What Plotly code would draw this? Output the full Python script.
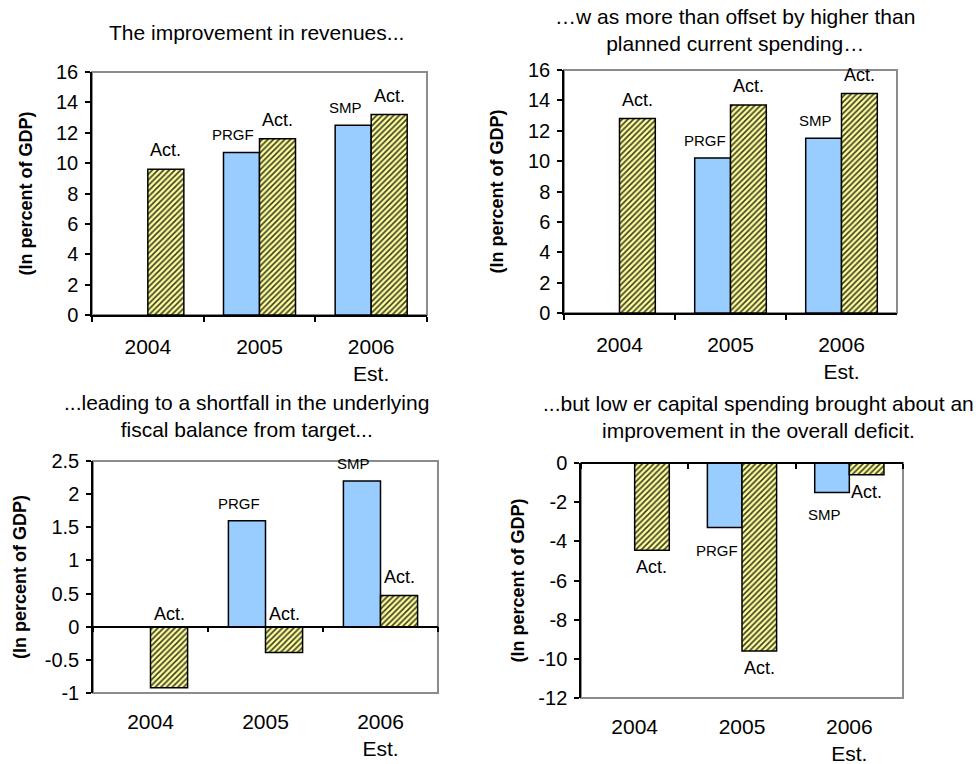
import plotly.graph_objects as go

# ---------------- data ----------------
categories = ["2004", "2005", "2006<br>Est."]

rev_prog = [None, 10.7, 12.5]
rev_act = [9.6, 11.6, 13.2]
rev_prog_lbl = ["", "PRGF", "SMP"]

cur_prog = [None, 10.2, 11.5]
cur_act = [12.8, 13.7, 14.45]
cur_prog_lbl = ["", "PRGF", "SMP"]

bal_prog = [None, 1.6, 2.2]
bal_act = [-0.92, -0.39, 0.47]
bal_prog_lbl = ["", "PRGF", "SMP"]

def_prog = [None, -3.3, -1.5]
def_act = [-4.45, -9.6, -0.6]
def_prog_lbl = ["", "PRGF", "SMP"]

act_lbl = ["Act.", "Act.", "Act."]

titles = [
    "The improvement in revenues...",
    "\u2026w as more than offset by higher than<br>planned current spending\u2026",
    "...leading to a shortfall in the underlying<br>fiscal balance from target...",
    "...but low er capital spending brought about an<br>improvement in the overall deficit.",
]
ytitle = "(In percent of GDP)"

y_ranges = [(0, 16, 2), (0, 16, 2), (-1, 2.5, 0.5), (-12, 0, 2)]

# ---------------- layout / style ----------------
W, H = 980, 764
FONT = "Arial, Liberation Sans, sans-serif"
BLUE = "#99CCFF"
YEL = "#FFFF99"
HATCH = "#3a3a2a"
BARGAP = 0.355

# plot areas in pixels: (left, right, top, bottom)
areas = [
    (92, 427, 72, 315),
    (564, 897, 70, 313),
    (93, 438, 461, 693),
    (581, 903, 463, 698),
]
# title centres (x px) and first line centre y px
title_pos = [(256, 32), (735, 16), (246, 402), (758, 403)]
ytitle_x = [25, 497, 20, 517]

panels = [
    (rev_prog, rev_act, rev_prog_lbl),
    (cur_prog, cur_act, cur_prog_lbl),
    (bal_prog, bal_act, bal_prog_lbl),
    (def_prog, def_act, def_prog_lbl),
]

fig = go.Figure()
annotations = []
shapes = []
layout = dict(
    template="none",
    width=W, height=H, autosize=False,
    margin=dict(l=0, r=0, t=0, b=0, pad=0),
    paper_bgcolor="white", plot_bgcolor="white",
    showlegend=False, barmode="group", bargap=BARGAP, bargroupgap=0,
    font=dict(family=FONT, color="black"),
)

half = (1 - BARGAP) / 4.0  # offset of each bar centre from category centre

for k, ((prog, act, plbl), area, yr) in enumerate(zip(panels, areas, y_ranges)):
    n = k + 1
    xs = "x" if n == 1 else f"x{n}"
    ys = "y" if n == 1 else f"y{n}"
    xk = "xaxis" if n == 1 else f"xaxis{n}"
    yk = "yaxis" if n == 1 else f"yaxis{n}"
    l, r, t, b = area
    xdom = [l / W, r / W]
    ydom = [1 - b / H, 1 - t / H]
    ymin, ymax, dt = yr

    fig.add_trace(go.Bar(
        x=categories, y=prog, xaxis=xs, yaxis=ys,
        marker=dict(color=BLUE, line=dict(color="black", width=1.5)),
        hoverinfo="skip",
    ))
    fig.add_trace(go.Bar(
        x=categories, y=act, xaxis=xs, yaxis=ys,
        marker=dict(color=YEL, line=dict(color="black", width=1.5),
                    pattern=dict(shape="/", bgcolor=YEL, fgcolor=HATCH,
                                 fgopacity=1, size=4, solidity=0.4)),
        hoverinfo="skip",
    ))

    tickvals = []
    v = ymin
    while v <= ymax + 1e-9:
        tickvals.append(round(v, 6))
        v += dt
    ticktext = [f"{tv:g}" for tv in tickvals]

    zero_inside = ymin < 0
    layout[xk] = dict(
        domain=xdom, anchor=ys, type="category", range=[-0.5, 2.5],
        tickson="boundaries", automargin=False,
        ticks="" if zero_inside else "outside", ticklen=5, tickcolor="black",
        tickwidth=1.5,
        showline=not zero_inside, linecolor="black", linewidth=1.5,
        showgrid=False, zeroline=False,
        tickfont=dict(size=21, family=FONT, color="black"),
        ticklabelstandoff=12 if not zero_inside else 14,
        fixedrange=True,
    )
    layout[yk] = dict(
        domain=ydom, anchor=xs, range=[ymin, ymax], automargin=False,
        tickvals=tickvals, ticktext=ticktext,
        ticks="outside", ticklen=5, tickcolor="black", tickwidth=1.5,
        showline=True, linecolor="black", linewidth=1.5,
        showgrid=False, zeroline=False,
        tickfont=dict(size=20, family=FONT, color="black"),
        ticklabelstandoff=3,
        fixedrange=True,
    )

    # grey plot frame
    shapes.append(dict(type="rect", xref=f"{xs} domain", yref=f"{ys} domain",
                       x0=0, x1=1, y0=0, y1=1, layer="below",
                       line=dict(color="#8c8c8c", width=2)))

    if zero_inside:
        on = n + 4
        ov = f"xaxis{on}"
        pos = ydom[0] + (0 - ymin) / (ymax - ymin) * (ydom[1] - ydom[0])
        layout[ov] = dict(
            overlaying=xs, anchor="free", position=pos, side="bottom",
            range=[-0.5, 2.5], tickvals=[-0.5, 0.5, 1.5, 2.5], automargin=False,
            ticks="outside", ticklen=5, tickcolor="black", tickwidth=1.5,
            showticklabels=False, showline=True, linecolor="black",
            linewidth=1.5, showgrid=False, zeroline=False, fixedrange=True,
        )
        # empty trace so the baseline axis is rendered
        fig.add_trace(go.Scatter(x=[None], y=[None], xaxis=f"x{on}", yaxis=ys,
                                 mode="markers", hoverinfo="skip"))

    # bar labels
    for i in range(len(categories)):
        for val, txt, off, fs, xsh, nsh in ((prog[i], plbl[i], -half, 15, -8, -12),
                                            (act[i], act_lbl[i], half, 18, 0, -5)):
            if val is None or not txt:
                continue
            if val >= 0:
                yv, ya, sh = val, "bottom", 7
            elif n == 3:
                yv, ya, sh = 0, "bottom", 1
            else:
                yv, ya, sh = val, "top", nsh
            annotations.append(dict(
                x=i + off, y=yv, xref=xs, yref=ys, text=txt, showarrow=False,
                yanchor=ya, xanchor="center", yshift=sh, xshift=xsh,
                font=dict(size=fs, family=FONT, color="black"),
            ))

    # titles
    tx, ty = title_pos[k]
    annotations.append(dict(
        x=tx / W, y=1 - (ty - 13) / H, xref="paper", yref="paper",
        text=titles[k], showarrow=False, xanchor="center", yanchor="top",
        align="center", font=dict(size=21, family=FONT, color="black"),
    ))
    # y-axis titles
    annotations.append(dict(
        x=ytitle_x[k] / W, y=(ydom[0] + ydom[1]) / 2, xref="paper", yref="paper",
        text=f"<b>{ytitle}</b>", showarrow=False, textangle=-90,
        xanchor="center", yanchor="middle",
        font=dict(size=18, family=FONT, color="black"),
    ))

layout["annotations"] = annotations
layout["shapes"] = shapes
fig.update_layout(**layout)
fig.write_html("out.html")
